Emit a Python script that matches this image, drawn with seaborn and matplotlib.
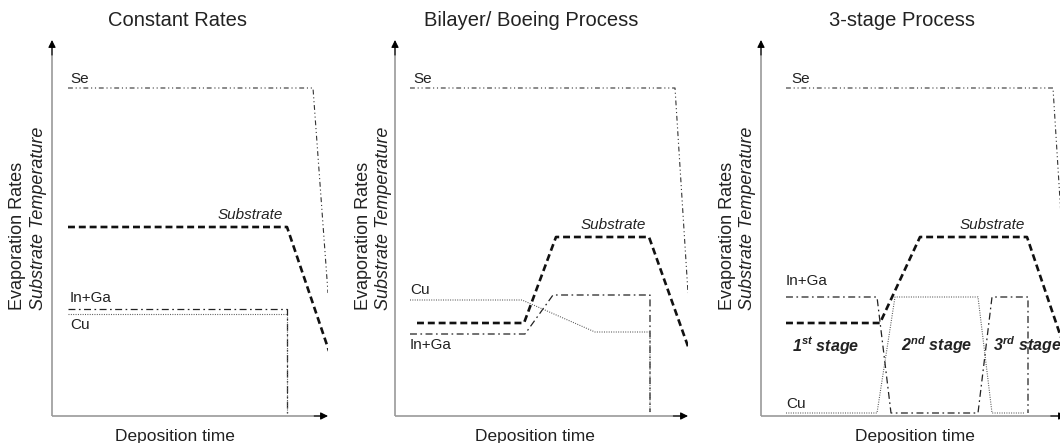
import matplotlib
matplotlib.use("Agg")
import matplotlib.pyplot as plt
import seaborn as sns
import pandas as pd

sns.set_style("white")
plt.rcParams['font.family'] = ['Liberation Sans', 'DejaVu Sans']
plt.rcParams['lines.scale_dashes'] = False
plt.rcParams['mathtext.fontset'] = 'custom'
plt.rcParams['mathtext.rm'] = 'Liberation Sans:italic:bold'
plt.rcParams['mathtext.it'] = 'Liberation Sans:italic:bold'
plt.rcParams['mathtext.bf'] = 'Liberation Sans:italic:bold'

# ---------------- data (time units, level units) ----------------
titles = ["Constant Rates", "Bilayer/ Boeing Process", "3-stage Process"]

# Panel 1: Constant Rates
p1_se_t = [16, 261, 276];            p1_se_v = [328, 328, 123]
p1_sub_t = [16, 235, 277];           p1_sub_v = [189, 189, 65]
p1_inga_t = [16, 235, 235];          p1_inga_v = [107, 107, 3]
p1_cu_t = [16, 235, 235];            p1_cu_v = [102, 102, 3]

# Panel 2: Bilayer / Boeing
p2_se_t = [15, 280, 293];            p2_se_v = [328, 328, 123]
p2_sub_t = [22, 129, 161, 254, 295]; p2_sub_v = [93, 93, 179, 179, 64]
p2_cu_t = [15, 127, 200, 255, 255];  p2_cu_v = [116, 116, 84, 84, 3]
p2_inga_t = [15, 130, 158, 255, 255]; p2_inga_v = [82, 82, 121, 121, 4]

# Panel 3: 3-stage
p3_se_t = [25, 292, 305];            p3_se_v = [328, 328, 120]
p3_sub_t = [25, 119, 159, 266, 308]; p3_sub_v = [93, 93, 179, 179, 55]
p3_inga_t = [25, 116, 130, 217, 231, 267, 267]
p3_inga_v = [119, 119, 3, 3, 119, 119, 3]
p3_cu_t = [25, 116, 134, 217, 231, 264]
p3_cu_v = [3, 3, 119, 119, 3, 3]

stage_labels = ["1$^{st}$ stage", "2$^{nd}$ stage", "3$^{rd}$ stage"]
stage_t = [65, 176, 266]
stage_v = 71

# ---------------- layout ----------------
FW, FH = 1060, 443
fig = plt.figure(figsize=(FW / 100, FH / 100), dpi=100)

panel_x0 = [52, 395, 761]
panel_w = [276, 293, 305]
y0, H = 416, 376

styles = {
    "Se": dict(color="#333333", lw=0.8, ls=(0, (3.5, 2, 0.8, 2, 0.8, 2))),
    "Substrate": dict(color="#111111", lw=1.9, ls=(0, (5, 2.8))),
    "In+Ga": dict(color="#222222", lw=0.9, ls=(0, (5, 2.5, 1.2, 2.5))),
    "Cu": dict(color="#555555", lw=0.8, ls=(0, (0.7, 1.0))),
}

series = [
    [("Se", p1_se_t, p1_se_v), ("Substrate", p1_sub_t, p1_sub_v),
     ("In+Ga", p1_inga_t, p1_inga_v), ("Cu", p1_cu_t, p1_cu_v)],
    [("Se", p2_se_t, p2_se_v), ("Substrate", p2_sub_t, p2_sub_v),
     ("In+Ga", p2_inga_t, p2_inga_v), ("Cu", p2_cu_t, p2_cu_v)],
    [("Se", p3_se_t, p3_se_v), ("Substrate", p3_sub_t, p3_sub_v),
     ("In+Ga", p3_inga_t, p3_inga_v), ("Cu", p3_cu_t, p3_cu_v)],
]

# label positions: (text, x, y, ha, va, style)
labels = [
    [("Se", 18, 330, "left", "bottom", "normal"),
     ("Substrate", 231, 194, "right", "bottom", "italic"),
     ("In+Ga", 18, 111, "left", "bottom", "normal"),
     ("Cu", 18, 98, "left", "top", "normal")],
    [("Se", 18, 330, "left", "bottom", "normal"),
     ("Substrate", 251, 184, "right", "bottom", "italic"),
     ("Cu", 15, 119, "left", "bottom", "normal"),
     ("In+Ga", 15, 78, "left", "top", "normal")],
    [("Se", 30, 330, "left", "bottom", "normal"),
     ("Substrate", 264, 184, "right", "bottom", "italic"),
     ("In+Ga", 25, 128, "left", "bottom", "normal"),
     ("Cu", 25, 5, "left", "bottom", "normal")],
]

title_cx = [178, 531, 902]
xlabel_cx = [175, 535, 915]
ylab1_x = [18, 363, 728]
ylab2_x = [39, 383, 748]

txtc = "#222222"

for i in range(3):
    x0, W = panel_x0[i], panel_w[i]
    ax = fig.add_axes([x0 / FW, (FH - y0) / FH, W / FW, H / FH])
    ax.set_xlim(0, W)
    ax.set_ylim(0, H)
    for s in ax.spines.values():
        s.set_visible(False)
    ax.set_xticks([])
    ax.set_yticks([])
    ax.patch.set_alpha(0)

    for name, t, v in series[i]:
        st = styles[name]
        df = pd.DataFrame({"t": t, "v": v})
        sns.lineplot(data=df, x="t", y="v", ax=ax, sort=False, estimator=None,
                     color=st["color"], linewidth=st["lw"], linestyle=st["ls"])
    ax.set_xlabel("")
    ax.set_ylabel("")

    # axis lines with arrows
    ax.plot([0, 0], [0, 0.985], transform=ax.transAxes, color="#999999",
            lw=1.2, clip_on=False, solid_capstyle="butt")
    ax.plot([0, 0.985], [0, 0], transform=ax.transAxes, color="#999999",
            lw=1.2, clip_on=False, solid_capstyle="butt")
    ax.annotate("", xy=(0, 1), xycoords="axes fraction", xytext=(0, 0.96),
                textcoords="axes fraction",
                arrowprops=dict(arrowstyle="-|>", color="black", lw=0.8,
                                mutation_scale=11, shrinkA=0, shrinkB=0))
    ax.annotate("", xy=(1, 0), xycoords="axes fraction", xytext=(0.95, 0),
                textcoords="axes fraction",
                arrowprops=dict(arrowstyle="-|>", color="black", lw=0.8,
                                mutation_scale=11, shrinkA=0, shrinkB=0))

    for text, lx, ly, ha, va, style in labels[i]:
        ax.text(lx, ly, text, ha=ha, va=va, fontsize=11, style=style,
                color=txtc)

    if i == 2:
        for lab, sx in zip(stage_labels, stage_t):
            ax.text(sx, stage_v, lab, ha="center", va="center", fontsize=11.5,
                    fontweight="bold", style="italic", color=txtc)

    fig.text(title_cx[i] / FW, 1 - 20 / FH, titles[i], ha="center",
             va="center", fontsize=14.5, color=txtc)
    fig.text(xlabel_cx[i] / FW, 1 - 437 / FH, "Deposition time", ha="center",
             va="center", fontsize=12.5, color=txtc)
    fig.text(ylab1_x[i] / FW, 1 - 310 / FH, "Evaporation Rates", rotation=90,
             ha="center", va="bottom", fontsize=13, color=txtc)
    fig.text(ylab2_x[i] / FW, 1 - 310 / FH, "Substrate Temperature",
             rotation=90, ha="center", va="bottom", fontsize=13,
             style="italic", color=txtc)

fig.savefig("out.png", dpi=100)
